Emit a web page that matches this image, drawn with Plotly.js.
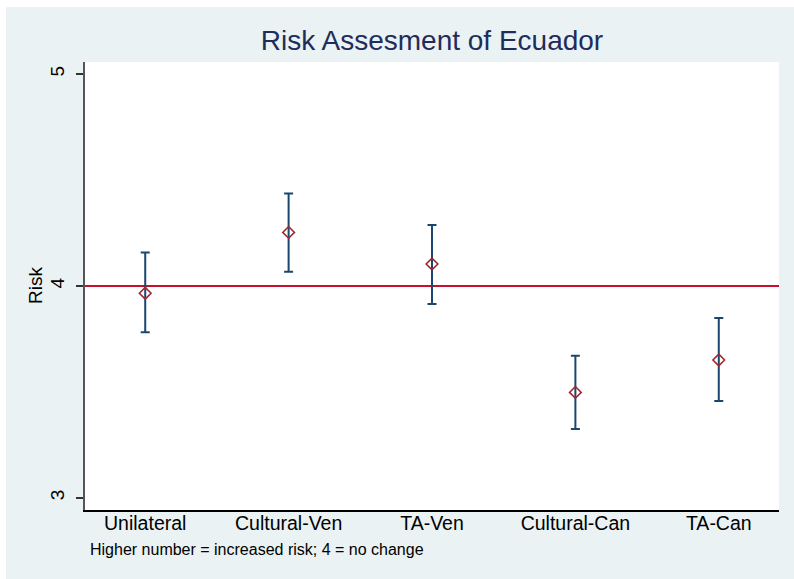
<!DOCTYPE html>
<html>
<head>
<meta charset="utf-8">
<script src="https://cdn.plot.ly/plotly-3.0.1.min.js"></script>
<style>
  html, body { margin: 0; padding: 0; background: #ffffff; width: 794px; height: 579px; overflow: hidden; }
  #chart { position: absolute; left: 6px; top: 7px; width: 788px; height: 572px; }
</style>
</head>
<body>
<div id="chart"></div>
<script>
const categories = ["Unilateral", "Cultural-Ven", "TA-Ven", "Cultural-Can", "TA-Can"];
const meanRisk  = [3.966, 4.253, 4.104, 3.498, 3.651];
const upperCI   = [4.158, 4.437, 4.288, 3.671, 3.849];
const lowerCI   = [3.782, 4.067, 3.915, 3.325, 3.457];
const yTicks    = [3, 4, 5];
const referenceLevel = 4;

const xIdx = categories.map((c, i) => i);
const errPlus  = upperCI.map((u, i) => u - meanRisk[i]);
const errMinus = lowerCI.map((l, i) => meanRisk[i] - l);

const trace = {
  type: "scatter",
  mode: "markers",
  x: xIdx,
  y: meanRisk,
  marker: { symbol: "diamond-open", size: 9, color: "#a0282f", line: { width: 1.6, color: "#a0282f" } },
  error_y: {
    type: "data", symmetric: false,
    array: errPlus, arrayminus: errMinus,
    color: "#1a476f", thickness: 2, width: 4.5
  },
  hoverinfo: "skip",
  showlegend: false
};

const layout = {
  width: 788, height: 572,
  paper_bgcolor: "#eaf2f3",
  plot_bgcolor: "#ffffff",
  margin: { l: 79, r: 15, t: 55, b: 69 },
  font: { family: "Liberation Sans, Arial, sans-serif", color: "#000000" },
  title: {
    text: "Risk Assesment of Ecuador",
    font: { size: 28, color: "#1f2d5a", family: "Liberation Sans, Arial, sans-serif" },
    x: 0.5, xref: "paper", xanchor: "center",
    y: 0.9423, yref: "container", yanchor: "middle"
  },
  xaxis: {
    range: [-0.42, 4.42],
    tickmode: "array", tickvals: xIdx, ticktext: categories,
    ticks: "", showgrid: false, zeroline: false,
    showline: true, linecolor: "#000000", linewidth: 1.5,
    tickfont: { size: 19.5, color: "#000000" },
    ticklabelstandoff: -5,
    fixedrange: true
  },
  yaxis: {
    range: [2.943, 5.057],
    tickmode: "array", tickvals: yTicks, ticktext: yTicks.map(String),
    ticks: "outside", ticklen: 7, tickwidth: 1.2, tickcolor: "#333333",
    tickangle: -90,
    ticklabelstandoff: 4,
    showgrid: false, zeroline: false,
    showline: true, linecolor: "#555555", linewidth: 2,
    tickfont: { size: 19, color: "#000000" },
    fixedrange: true
  },
  shapes: [{
    type: "line", xref: "paper", x0: 0, x1: 1, yref: "y", y0: referenceLevel, y1: referenceLevel,
    line: { color: "#c8102e", width: 2 }, layer: "below"
  }],
  annotations: [
    {
      text: "Risk", xref: "paper", yref: "paper", x: -0.072, y: 0.5,
      xanchor: "center", yanchor: "middle", textangle: -90, showarrow: false,
      font: { size: 19, color: "#000000" }
    },
    {
      text: "Higher number = increased risk; 4 = no change",
      xref: "paper", yref: "paper", x: 0.0043, y: -0.0882,
      xanchor: "left", yanchor: "middle", showarrow: false,
      font: { size: 16, color: "#000000" }
    }
  ]
};

Plotly.newPlot("chart", [trace], layout, { displayModeBar: false, staticPlot: true });
</script>
</body>
</html>
